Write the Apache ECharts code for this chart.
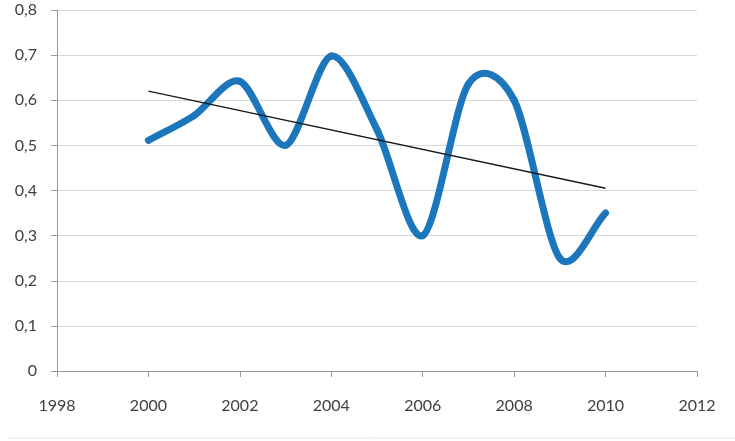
<!DOCTYPE html>
<html>
<head>
<meta charset="utf-8">
<script src="https://cdn.jsdelivr.net/npm/echarts@6/dist/echarts.min.js"></script>
<style>
html,body{margin:0;padding:0;background:#fff;}
#chart{width:735px;height:441px;}
</style>
</head>
<body>
<div id="chart"></div>
<script>
var years = [2000, 2001, 2002, 2003, 2004, 2005, 2006, 2007, 2008, 2009, 2010];
var values = [0.511, 0.566, 0.642, 0.50, 0.698, 0.535, 0.30, 0.636, 0.60, 0.25, 0.35];
var trendYears = [2000, 2010];
var trendValues = [0.62, 0.405];

var chart = echarts.init(document.getElementById('chart'));
var fontFam = 'Lato, "Open Sans", sans-serif';
var SMOOTH = 0.15;

function renderSegment(params, api) {
  var i = params.dataIndex;
  var n = years.length;
  if (i >= n - 1) return null;
  function pt(j) {
    j = Math.max(0, Math.min(n - 1, j));
    return api.coord([years[j], values[j]]);
  }
  var p0 = pt(i - 1), p1 = pt(i), p2 = pt(i + 1), p3 = pt(i + 2);
  var s1 = (i === 0) ? 2 * SMOOTH : SMOOTH;
  var s2 = (i + 1 === n - 1) ? 2 * SMOOTH : SMOOTH;
  var cp1 = [p1[0] + (p2[0] - p0[0]) * s1, p1[1] + (p2[1] - p0[1]) * s1];
  var cp2 = [p2[0] - (p3[0] - p1[0]) * s2, p2[1] - (p3[1] - p1[1]) * s2];
  return {
    type: 'bezierCurve',
    shape: { x1: p1[0], y1: p1[1], x2: p2[0], y2: p2[1], cpx1: cp1[0], cpy1: cp1[1], cpx2: cp2[0], cpy2: cp2[1] },
    style: { stroke: '#1b76bc', lineWidth: 7, fill: null, lineCap: 'round' }
  };
}

chart.setOption({
  animation: false,
  backgroundColor: '#ffffff',
  grid: { left: 57, right: 38, top: 10, bottom: 70, containLabel: false },
  xAxis: {
    type: 'value', min: 1998, max: 2012, interval: 2,
    axisLine: { show: true, onZero: false, lineStyle: { color: '#9a9a9a', width: 1 } },
    axisTick: { show: true, inside: false, length: 6, lineStyle: { color: '#9a9a9a' } },
    axisLabel: { color: '#404040', fontSize: 16, fontFamily: fontFam, margin: 27,
      formatter: function (v) { return String(v); } },
    splitLine: { show: false }
  },
  yAxis: {
    type: 'value', min: 0, max: 0.8, interval: 0.1,
    axisLine: { show: true, lineStyle: { color: '#9a9a9a', width: 1 } },
    axisTick: { show: true, inside: false, length: 6, lineStyle: { color: '#9a9a9a' } },
    axisLabel: { color: '#404040', fontSize: 16, fontFamily: fontFam, margin: 20,
      formatter: function (v) { return v === 0 ? '0' : v.toFixed(1).replace('.', ','); } },
    splitLine: { show: true, lineStyle: { color: '#d9d9d9', width: 1 } }
  },
  graphic: [{
    type: 'line', shape: { x1: 8, y1: 438, x2: 735, y2: 438 },
    style: { stroke: '#e6e6e6', lineWidth: 1 }, silent: true
  }],
  series: [{
    type: 'custom',
    renderItem: renderSegment,
    data: years.map(function (y, i) { return [y, values[i]]; }),
    encode: { x: 0, y: 1 },
    clip: false,
    z: 2
  }, {
    type: 'line',
    data: trendYears.map(function (y, i) { return [y, trendValues[i]]; }),
    symbol: 'none',
    lineStyle: { color: '#1a1a1a', width: 1.3 },
    z: 3
  }]
});
</script>
</body>
</html>
